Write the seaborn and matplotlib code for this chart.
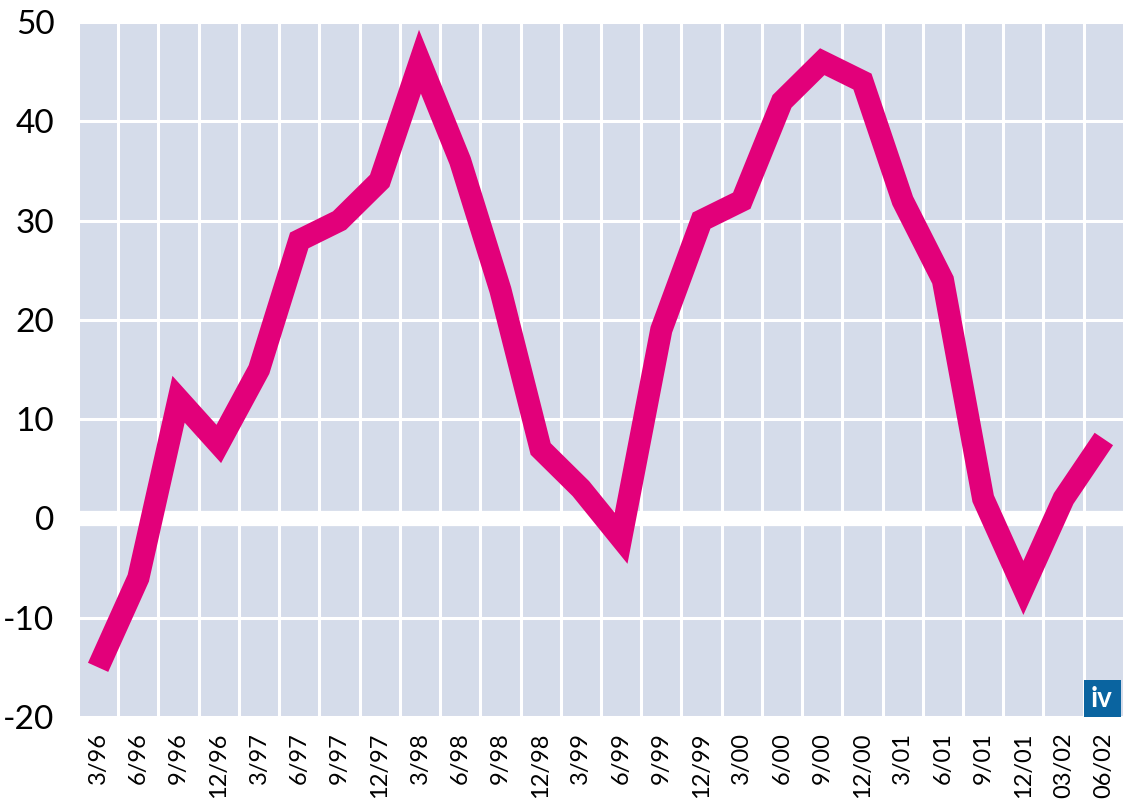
import numpy as np
import pandas as pd
import matplotlib
matplotlib.use("Agg")
import matplotlib.pyplot as plt
from matplotlib.ticker import MultipleLocator
from matplotlib.patches import Rectangle
import seaborn as sns

# quarters and change in percent
quarters = ["3/96", "6/96", "9/96", "12/96", "3/97", "6/97", "9/97", "12/97",
            "3/98", "6/98", "9/98", "12/98", "3/99", "6/99", "9/99", "12/99",
            "3/00", "6/00", "9/00", "12/00", "3/01", "6/01", "9/01", "12/01",
            "03/02", "06/02"]
values = [-15, -6, 12, 7.5, 15, 28, 30, 34,
          46, 36, 23, 7, 3, -2, 19, 30,
          32, 42, 46, 44, 32, 24, 2, -7,
          2, 8]
y_ticks = [-20, -10, 0, 10, 20, 30, 40, 50]

bg_color = "#d5dcea"
line_color = "#e2007a"
logo_color = "#0a64a0"

df = pd.DataFrame({"quarter": quarters, "value": values})

sns.set_theme(style="white")
plt.rcParams["font.family"] = ["Lato", "DejaVu Sans"]

fig = plt.figure(figsize=(11.27, 8.02), dpi=100)
ax = fig.add_axes([0.0692, 0.106, 0.9281, 0.8666])
ax.set_facecolor(bg_color)

# white grid between cells, thick zero line
ax.xaxis.set_minor_locator(MultipleLocator(1, offset=0.5))
ax.grid(False)
ax.grid(which="minor", axis="x", color="white", lw=2.2, zorder=1)
ax.grid(which="major", axis="y", color="white", lw=2.2, zorder=1)
ax.axhline(0, color="white", lw=11, zorder=1.5)
ax.set_axisbelow(True)

sns.lineplot(data=df, x="quarter", y="value", sort=False, ax=ax,
             color=line_color, lw=16, solid_joinstyle="miter",
             solid_capstyle="butt", zorder=3)

ax.set_xlim(-0.5, len(quarters) - 0.5)
ax.set_ylim(-20, 50)
ax.set_yticks(y_ticks)
ax.set_yticklabels([str(v) for v in y_ticks], fontsize=24)
ax.set_xticks(range(len(quarters)))
ax.set_xticklabels(quarters, rotation=90, fontsize=17)
ax.tick_params(axis="both", which="both", length=0, colors="black")
ax.tick_params(axis="y", pad=17)
ax.tick_params(axis="x", pad=11)
ax.set_xlabel("")
ax.set_ylabel("")
for s in ax.spines.values():
    s.set_visible(False)

# "iv" logo in the bottom right corner
ax.add_patch(Rectangle((0.9615, 0.0), 0.0355, 0.053, transform=ax.transAxes,
                       facecolor=logo_color, edgecolor="none", zorder=4))
ax.text(0.979, 0.026, "iv", transform=ax.transAxes, color="white",
        fontsize=20, fontweight="bold", ha="center", va="center", zorder=5)

fig.savefig("out.png", dpi=100)
